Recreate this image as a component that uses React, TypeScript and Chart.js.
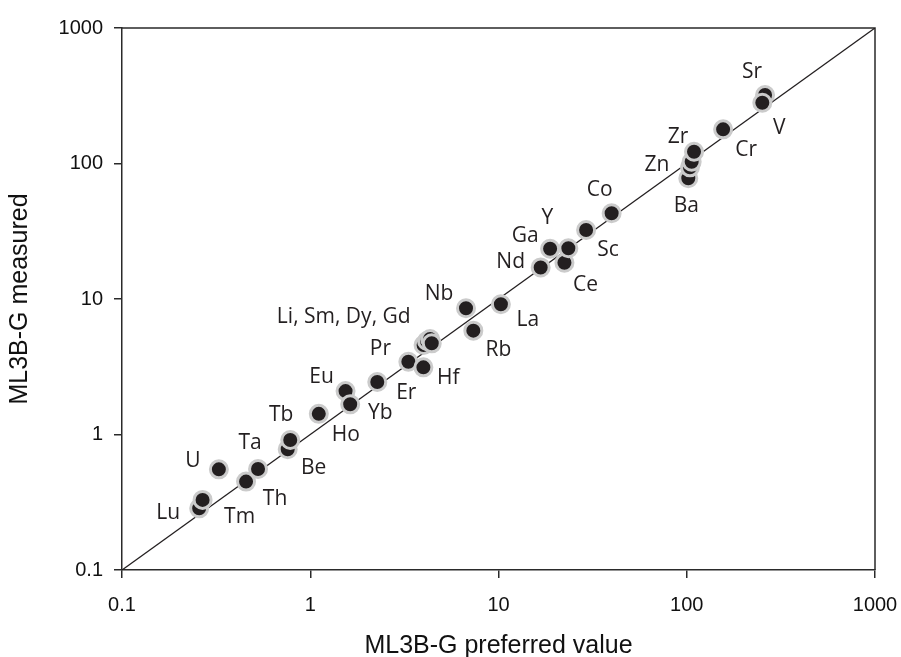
import React, { useEffect, useRef } from "react";
import { Chart, registerables } from "chart.js";
Chart.register(...registerables);

// Element names (one per point)
const elements = [
  "Lu", "Tm", "U", "Th", "Ta", "Be", "Tb", "Ho", "Eu", "Yb", "Er", "Pr", "Hf",
  "Li", "Sm", "Dy", "Gd", "Nb", "Rb", "La", "Nd", "Ga", "Ce", "Y", "Sc", "Co",
  "Ba", "Zn", "Cu", "Zr", "Cr", "Sr", "V",
];
// ML3B-G preferred value (x)
const preferred = [
  0.257, 0.268, 0.327, 0.456, 0.528, 0.759, 0.783, 1.11, 1.54, 1.63, 2.27, 3.32, 3.99,
  4.0, 4.17, 4.33, 4.42, 6.72, 7.35, 10.3, 16.75, 18.8, 22.4, 23.5, 29.2, 39.9,
  101.9, 104, 106.2, 109.3, 156, 260.6, 252,
];
// ML3B-G measured (y)
const measured = [
  0.285, 0.329, 0.553, 0.449, 0.556, 0.778, 0.91, 1.42, 2.09, 1.67, 2.44, 3.44, 3.13,
  4.58, 4.9, 5.07, 4.71, 8.54, 5.84, 9.14, 17.1, 23.5, 18.5, 23.7, 32.3, 42.9,
  77.8, 93.7, 103, 122.2, 178.7, 320, 281,
];
// Tick values and labels for both log axes
const tickValues = [0.1, 1, 10, 100, 1000];
const tickLabels = ["0.1", "1", "10", "100", "1000"];
// Annotation texts: [text, index of anchor point]
const labelTexts: [string, number][] = [
  ["Lu", 0], ["Tm", 1], ["U", 2], ["Th", 3], ["Ta", 4], ["Be", 5], ["Tb", 6],
  ["Ho", 7], ["Eu", 8], ["Yb", 9], ["Er", 10], ["Pr", 11], ["Hf", 12],
  ["Li, Sm, Dy, Gd", 16], ["Nb", 17], ["Rb", 18], ["La", 19], ["Nd", 20],
  ["Ga", 21], ["Ce", 22], ["Y", 23], ["Sc", 24], ["Co", 25], ["Ba", 26],
  ["Zn", 27], ["Zr", 29], ["Cr", 30], ["Sr", 31], ["V", 32],
];
// Pixel offsets of each annotation text from its anchor point (layout only)
const labelOffsets: [number, number][] = [
  [-31, 5], [37, 17], [-26, -8], [29, 17], [-8, -26], [26, 19], [-9, -25],
  [27, 21], [-24, -14], [30, 9], [29, 11], [-28, -13], [25, 11],
  [-88, -26], [-27, -14], [25, 19], [27, 16], [-30, -5],
  [-25, -13], [21, 22], [-21, -30], [22, 20], [-12, -23], [-2, 28],
  [-33, -2], [-16, -15], [23, 21], [-13, -23], [17, 25],
];

const AXIS_COLOR = "#2a2a2a";
const INK = "#231f20";
const SANS = '"Liberation Sans", Arial, sans-serif';

const framePlugin = {
  id: "frameAndLabels",
  beforeDatasetsDraw(chart: any) {
    const { ctx, chartArea } = chart;
    ctx.save();
    ctx.strokeStyle = AXIS_COLOR;
    ctx.lineWidth = 1.5;
    ctx.beginPath();
    ctx.moveTo(chartArea.left, chartArea.top);
    ctx.lineTo(chartArea.right, chartArea.top);
    ctx.lineTo(chartArea.right, chartArea.bottom);
    ctx.stroke();
    ctx.restore();
  },
  afterDatasetsDraw(chart: any) {
    const { ctx } = chart;
    const meta = chart.getDatasetMeta(1);
    ctx.save();
    ctx.fillStyle = INK;
    ctx.font = '21px "Open Sans"';
    ctx.textAlign = "center";
    ctx.textBaseline = "middle";
    labelTexts.forEach(([text, idx], i) => {
      const el = meta.data[idx];
      if (!el) return;
      const [dx, dy] = labelOffsets[i];
      ctx.fillText(text, el.x + dx, el.y + dy);
    });
    ctx.restore();
  },
};

function makeAxis(title: string, isX: boolean) {
  return {
    type: "logarithmic" as const,
    position: isX ? "bottom" : "left",
    min: 0.1,
    max: 1000,
    afterBuildTicks: (s: any) => {
      s.ticks = tickValues.map((v) => ({ value: v }));
    },
    afterFit: (s: any) => {
      if (isX) s.height = 87;
      else s.width = 122;
      s.paddingLeft = 0;
      s.paddingRight = 0;
      s.paddingTop = 0;
      s.paddingBottom = 0;
    },
    ticks: {
      autoSkip: false,
      maxRotation: 0,
      padding: isX ? 15 : 11,
      color: "#111111",
      font: { family: SANS, size: 20 },
      callback: (_v: any, i: number) => tickLabels[i],
    },
    grid: {
      drawOnChartArea: false,
      drawTicks: true,
      tickLength: 8,
      color: AXIS_COLOR,
      lineWidth: 1.5,
    },
    border: { display: true, color: AXIS_COLOR, width: 1.5 },
    title: {
      display: true,
      text: title,
      color: "#111111",
      font: { family: SANS, size: 25, lineHeight: 0.9 },
      padding: isX ? { top: 0, bottom: 0 } : { top: 9, bottom: 0 },
    },
  };
}

export default function App() {
  const ref = useRef<HTMLCanvasElement>(null);
  useEffect(() => {
    if (!ref.current) return;
    const points = preferred.map((x, i) => ({ x, y: measured[i] }));
    const chart = new Chart(ref.current, {
      type: "scatter",
      data: {
        datasets: [
          {
            type: "line",
            label: "1:1",
            data: [
              { x: tickValues[0], y: tickValues[0] },
              { x: tickValues[tickValues.length - 1], y: tickValues[tickValues.length - 1] },
            ],
            borderColor: INK,
            borderWidth: 1.3,
            pointRadius: 0,
            fill: false,
            order: 2,
          } as any,
          {
            label: "ML3B-G",
            data: points,
            pointRadius: 8.5,
            pointBorderWidth: 3,
            pointBackgroundColor: INK,
            pointBorderColor: "#cbcbcb",
            order: 1,
          },
        ],
      },
      options: {
        animation: false,
        responsive: true,
        maintainAspectRatio: false,
        layout: { padding: { top: 28, right: 26, left: 0, bottom: 0 } },
        plugins: {
          legend: { display: false },
          tooltip: { enabled: false },
        },
        scales: {
          x: makeAxis("ML3B-G preferred value", true) as any,
          y: makeAxis("ML3B-G measured", false) as any,
        },
      },
      plugins: [framePlugin],
    });
    return () => chart.destroy();
  }, []);
  return (
    <div style={{ position: "fixed", left: 0, top: 0, width: 901, height: 657, background: "#fff" }}>
      <canvas ref={ref} />
    </div>
  );
}
